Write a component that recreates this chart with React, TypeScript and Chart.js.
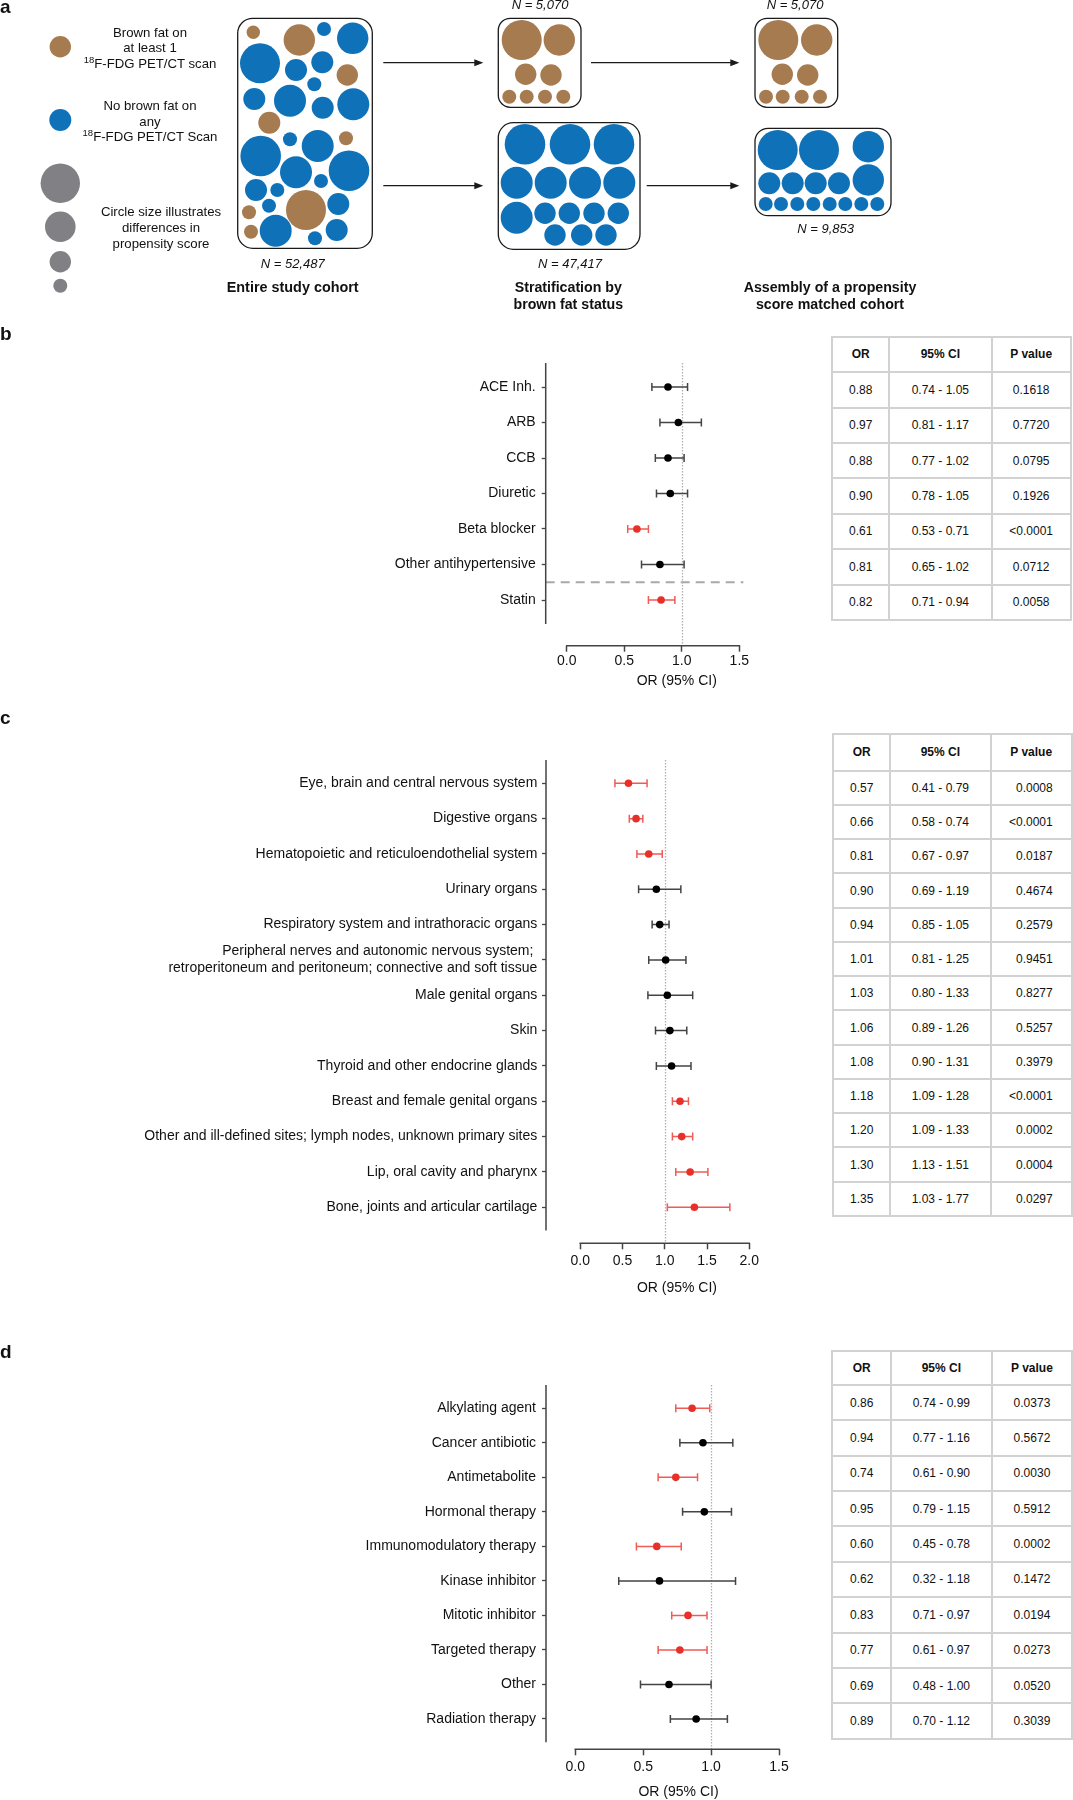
import React, { useEffect, useRef } from 'react';
import { Chart, registerables } from 'chart.js';

Chart.register(...registerables);

const FONT = "'Liberation Sans', Arial, Helvetica, sans-serif";

const BROWN = '#a67b4f';
const BLUE = '#0f72b9';
const GRAY = '#818185';
const RED = '#e8302a';
const RED_BAR = '#ef5b55';
const BLACK = '#000000';
const BAR = '#444444';
const AX = '#444444';

// ---------- panel a (schematic) ----------
const legendBrown = [[60.3, 46.7, 10.7]];
const legendBlue = [[60.3, 120, 11]];
const legendGray = [[60.3, 183.3, 19.7], [60.3, 226.7, 15.3], [60.3, 261.7, 10.7], [60.3, 285.7, 7]];
const cohortBrown = [
  [253.3, 32.3, 6.7], [299.3, 40, 15.7], [347.3, 75, 10.7], [269.3, 122.7, 11], [346, 138.3, 7],
  [306, 210, 20], [249, 212.3, 7], [251, 231.7, 7],
];
const cohortBlue = [
  [324, 29, 7], [352.7, 38.3, 15.7], [260, 63.3, 20], [296, 70, 11], [322.3, 62.3, 11],
  [314.3, 84.3, 7], [254.3, 99, 11], [290, 100.7, 16], [322.7, 107.7, 11], [353.3, 104.3, 16],
  [290, 139.3, 7], [317.7, 146, 16], [260.7, 156, 20.3], [296, 172.3, 16], [349, 170.7, 20.3],
  [321, 181, 7], [256, 190, 11], [277.3, 190, 7], [269, 205.7, 7], [338.3, 204, 11],
  [275.7, 230.7, 16], [315, 238.3, 7], [336.7, 230, 11],
];
const stratBrown = [
  [521.7, 40, 20], [559.3, 40, 15.7], [525.7, 74.3, 10.7], [551, 75, 10.7],
  [509.3, 96.7, 7], [526.7, 96.7, 7], [545, 96.7, 7], [563.3, 96.7, 7],
];
const stratBlue = [
  [525, 144.3, 20.3], [570, 144.3, 20.3], [614, 144.3, 20.3],
  [516.7, 182.7, 16], [550.7, 182.7, 16], [585, 182.7, 16], [619.3, 182.7, 16],
  [516.7, 217.7, 16], [545, 213.3, 10.7], [569.3, 213.3, 10.7], [594, 213.3, 10.7], [618.3, 213.3, 10.7],
  [555, 235, 10.7], [581.7, 235, 10.7], [606, 235, 10.7],
];
const matchedBrown = [
  [778.3, 40, 20], [816.7, 40, 15.7], [782.3, 74.3, 10.7], [807.7, 75, 10.7],
  [766, 96.7, 7], [782.7, 96.7, 7], [801.7, 96.7, 7], [820, 96.7, 7],
];
const matchedBlue = [
  [777.7, 150, 20], [819, 150, 20], [868.3, 146.7, 15.7], [868.3, 180, 15.7],
  [769.3, 183.3, 11], [792.7, 183.3, 11], [815.7, 183.3, 11], [839, 183.3, 11],
  [765.7, 204, 7], [781, 204, 7], [797.3, 204, 7], [813.3, 204, 7],
  [829.7, 204, 7], [845.3, 204, 7], [861.3, 204, 7], [877.3, 204, 7],
];
const boxes = [
  [237.7, 18.3, 372.3, 248.3, 15],
  [498.3, 18.3, 581, 107.3, 12],
  [498.3, 122.7, 640, 249.3, 15],
  [755, 18.3, 837.7, 107.3, 12],
  [755, 128.3, 891, 215.7, 13],
];
const arrows = [
  [383.3, 483.3, 62.7], [383.3, 483.3, 185.7], [591, 739.3, 62.7], [646.7, 739.3, 185.7],
];

// ---------- panel b ----------
const bLabels = ['ACE Inh.', 'ARB', 'CCB', 'Diuretic', 'Beta blocker', 'Other antihypertensive', 'Statin'];
const bOR = [0.88, 0.97, 0.88, 0.90, 0.61, 0.81, 0.82];
const bLo = [0.74, 0.81, 0.77, 0.78, 0.53, 0.65, 0.71];
const bHi = [1.05, 1.17, 1.02, 1.05, 0.71, 1.02, 0.94];
const bP = ['0.1618', '0.7720', '0.0795', '0.1926', '<0.0001', '0.0712', '0.0058'];
const bTicks = [0, 0.5, 1.0, 1.5];

// ---------- panel c ----------
const cLabels = [
  'Eye, brain and central nervous system',
  'Digestive organs',
  'Hematopoietic and reticuloendothelial system',
  'Urinary organs',
  'Respiratory system and intrathoracic organs',
  ['Peripheral nerves and autonomic nervous system; ', 'retroperitoneum and peritoneum; connective and soft tissue'],
  'Male genital organs',
  'Skin',
  'Thyroid and other endocrine glands',
  'Breast and female genital organs',
  'Other and ill-defined sites; lymph nodes, unknown primary sites',
  'Lip, oral cavity and pharynx',
  'Bone, joints and articular cartilage',
];
const cOR = [0.57, 0.66, 0.81, 0.90, 0.94, 1.01, 1.03, 1.06, 1.08, 1.18, 1.20, 1.30, 1.35];
const cLo = [0.41, 0.58, 0.67, 0.69, 0.85, 0.81, 0.80, 0.89, 0.90, 1.09, 1.09, 1.13, 1.03];
const cHi = [0.79, 0.74, 0.97, 1.19, 1.05, 1.25, 1.33, 1.26, 1.31, 1.28, 1.33, 1.51, 1.77];
const cP = ['0.0008', '<0.0001', '0.0187', '0.4674', '0.2579', '0.9451', '0.8277', '0.5257', '0.3979', '<0.0001', '0.0002', '0.0004', '0.0297'];
const cTicks = [0, 0.5, 1.0, 1.5, 2.0];

// ---------- panel d ----------
const dLabels = ['Alkylating agent', 'Cancer antibiotic', 'Antimetabolite', 'Hormonal therapy', 'Immunomodulatory therapy', 'Kinase inhibitor', 'Mitotic inhibitor', 'Targeted therapy', 'Other', 'Radiation therapy'];
const dOR = [0.86, 0.94, 0.74, 0.95, 0.60, 0.62, 0.83, 0.77, 0.69, 0.89];
const dLo = [0.74, 0.77, 0.61, 0.79, 0.45, 0.32, 0.71, 0.61, 0.48, 0.70];
const dHi = [0.99, 1.16, 0.90, 1.15, 0.78, 1.18, 0.97, 0.97, 1.00, 1.12];
const dP = ['0.0373', '0.5672', '0.0030', '0.5912', '0.0002', '0.1472', '0.0194', '0.0273', '0.0520', '0.3039'];
const dTicks = [0, 0.5, 1.0, 1.5];

const AXIS_TITLE = 'OR (95% CI)';

type Geo = {
  top: number; width: number; height: number;
  areaLeft: number; areaTop: number; areaBottom: number;
  zeroX: number; unitPx: number; firstY: number; rowH: number;
  yTick: number; yPad: number; xPad: number; titleDy: number; lineH: number;
};

function Schematic() {
  const ref = useRef<HTMLCanvasElement | null>(null);
  useEffect(() => {
    const toPts = (arr: number[][]) => arr.map(([x, y, r]) => ({ x, y, r }));
    const shapes = {
      id: 'shapes',
      afterDatasetsDraw(chart: any) {
        const { ctx, scales } = chart;
        const X = (v: number) => scales.x.getPixelForValue(v);
        const Y = (v: number) => scales.y.getPixelForValue(v);
        ctx.save();
        ctx.strokeStyle = '#1a1a1a';
        ctx.lineWidth = 1.3;
        boxes.forEach(([x1, y1, x2, y2, r]) => {
          ctx.beginPath();
          ctx.roundRect(X(x1), Y(y1), X(x2) - X(x1), Y(y2) - Y(y1), r);
          ctx.stroke();
        });
        ctx.fillStyle = '#1a1a1a';
        ctx.lineWidth = 1.2;
        arrows.forEach(([x1, x2, y]) => {
          const yy = Y(y);
          ctx.beginPath();
          ctx.moveTo(X(x1), yy);
          ctx.lineTo(X(x2) - 6, yy);
          ctx.stroke();
          ctx.beginPath();
          ctx.moveTo(X(x2), yy);
          ctx.lineTo(X(x2) - 9, yy - 3.5);
          ctx.lineTo(X(x2) - 9, yy + 3.5);
          ctx.closePath();
          ctx.fill();
        });
        ctx.restore();
      },
    };
    const chart = new Chart(ref.current as HTMLCanvasElement, {
      type: 'bubble',
      data: {
        datasets: [
          { data: toPts([...legendBrown, ...cohortBrown, ...stratBrown, ...matchedBrown]), backgroundColor: BROWN, borderWidth: 0 },
          { data: toPts([...legendBlue, ...cohortBlue, ...stratBlue, ...matchedBlue]), backgroundColor: BLUE, borderWidth: 0 },
          { data: toPts(legendGray), backgroundColor: GRAY, borderWidth: 0 },
        ],
      } as any,
      options: {
        animation: false,
        responsive: false,
        events: [],
        layout: { padding: 0, autoPadding: false },
        plugins: { legend: { display: false }, tooltip: { enabled: false } },
        scales: {
          x: { type: 'linear', min: 0, max: 1073, display: false },
          y: { type: 'linear', min: 0, max: 320, reverse: true, display: false },
        },
      } as any,
      plugins: [shapes],
    });
    return () => chart.destroy();
  }, []);
  return <canvas ref={ref} width={1073} height={320} style={{ position: 'absolute', left: 0, top: 0 }} />;
}

function Forest(props: {
  labels: (string | string[])[]; or: number[]; lo: number[]; hi: number[]; xTicks: number[];
  g: Geo; dashAfter?: number; titleAt: number; dashEnd?: number;
}) {
  const ref = useRef<HTMLCanvasElement | null>(null);
  const { g } = props;
  useEffect(() => {
    const { labels, or, lo, hi, xTicks, dashAfter, titleAt, dashEnd } = props;
    const N = labels.length;
    const yMin = -(g.firstY - g.areaTop) / g.rowH;
    const yMax = (g.areaBottom - g.firstY) / g.rowH;
    const xMin = -(g.zeroX - g.areaLeft) / g.unitPx;
    const xMaxV = xTicks[xTicks.length - 1];
    const areaRight = g.zeroX + xMaxV * g.unitPx;
    const XH = 30;
    const sig = or.map((_, i) => hi[i] < 1 || lo[i] > 1);
    const dotCol = sig.map((s) => (s ? RED : BLACK));
    const barCol = sig.map((s) => (s ? RED_BAR : BAR));
    const forest = {
      id: 'forest',
      beforeDatasetsDraw(chart: any) {
        const { ctx, chartArea } = chart;
        const x = chart.scales.x;
        const y = chart.scales.y;
        ctx.save();
        const x1 = Math.round(x.getPixelForValue(1)) + 0.5;
        ctx.strokeStyle = '#b0b0b0';
        ctx.lineWidth = 1.3;
        ctx.setLineDash([1.5, 1.5]);
        ctx.beginPath();
        ctx.moveTo(x1, chartArea.top);
        ctx.lineTo(x1, chartArea.bottom);
        ctx.stroke();
        ctx.setLineDash([]);
        if (dashAfter !== undefined) {
          const yy = y.getPixelForValue(dashAfter + 0.5);
          ctx.strokeStyle = '#a9a9a9';
          ctx.lineWidth = 2;
          ctx.setLineDash([9, 6]);
          ctx.beginPath();
          ctx.moveTo(chartArea.left, yy);
          ctx.lineTo(x.getPixelForValue(dashEnd ?? xMaxV), yy);
          ctx.stroke();
          ctx.setLineDash([]);
        }
        ctx.lineWidth = 1.5;
        for (let i = 0; i < N; i++) {
          const yy = y.getPixelForValue(i);
          const a = x.getPixelForValue(lo[i]);
          const b = x.getPixelForValue(hi[i]);
          ctx.strokeStyle = barCol[i];
          ctx.beginPath();
          ctx.moveTo(a, yy);
          ctx.lineTo(b, yy);
          ctx.moveTo(a, yy - 4);
          ctx.lineTo(a, yy + 4);
          ctx.moveTo(b, yy - 4);
          ctx.lineTo(b, yy + 4);
          ctx.stroke();
        }
        ctx.restore();
      },
      afterDraw(chart: any) {
        const { ctx, chartArea } = chart;
        const x = chart.scales.x;
        const y = chart.scales.y;
        ctx.save();
        ctx.strokeStyle = AX;
        ctx.lineWidth = 1.5;
        ctx.beginPath();
        ctx.moveTo(chartArea.left, chartArea.top);
        ctx.lineTo(chartArea.left, y.getPixelForValue(N - 1 - yMin));
        ctx.moveTo(x.getPixelForValue(xTicks[0]) - 0.75, chartArea.bottom);
        ctx.lineTo(x.getPixelForValue(xMaxV) + 0.75, chartArea.bottom);
        ctx.stroke();
        ctx.fillStyle = '#111';
        ctx.font = `14px ${FONT}`;
        ctx.textAlign = 'center';
        ctx.textBaseline = 'middle';
        ctx.fillText(AXIS_TITLE, x.getPixelForValue(titleAt), chartArea.bottom + g.titleDy);
        ctx.restore();
      },
    };
    const chart = new Chart(ref.current as HTMLCanvasElement, {
      type: 'scatter',
      data: {
        datasets: [
          {
            data: or.map((v, i) => ({ x: v, y: i })),
            pointRadius: 3.8,
            pointHoverRadius: 3.8,
            pointBackgroundColor: dotCol,
            pointBorderWidth: 0,
            showLine: false,
          },
        ],
      } as any,
      options: {
        animation: false,
        responsive: false,
        events: [],
        layout: {
          autoPadding: false,
          padding: {
            left: 0,
            top: g.areaTop - g.top,
            right: g.width - areaRight,
            bottom: g.height - (g.areaBottom - g.top) - XH,
          },
        },
        plugins: { legend: { display: false }, tooltip: { enabled: false } },
        scales: {
          x: {
            type: 'linear',
            position: 'bottom',
            min: xMin,
            max: xMaxV,
            afterBuildTicks: (s: any) => { s.ticks = xTicks.map((v) => ({ value: v })); },
            afterFit: (s: any) => { s.height = XH; },
            ticks: {
              callback: (v: any) => Number(v).toFixed(1),
              font: { family: FONT, size: 14 },
              color: '#111',
              padding: g.xPad,
              maxRotation: 0,
              autoSkip: false,
            },
            grid: { display: true, drawOnChartArea: false, drawTicks: true, tickLength: 6, tickColor: AX, tickWidth: 1.5, color: AX },
            border: { display: false },
          },
          y: {
            type: 'linear',
            position: 'left',
            reverse: true,
            min: yMin,
            max: yMax,
            afterBuildTicks: (s: any) => { s.ticks = labels.map((_, i) => ({ value: i })); },
            afterFit: (s: any) => { s.width = g.areaLeft; },
            ticks: {
              callback: (v: any) => labels[v],
              font: { family: FONT, size: 14, lineHeight: `${g.lineH}px` },
              color: '#111',
              padding: g.yPad,
              autoSkip: false,
            },
            grid: { display: true, drawOnChartArea: false, drawTicks: true, tickLength: g.yTick, tickColor: AX, tickWidth: 1.3, color: AX },
            border: { display: false },
          },
        },
      } as any,
      plugins: [forest],
    });
    return () => chart.destroy();
  }, []);
  return <canvas ref={ref} width={g.width} height={g.height} style={{ position: 'absolute', left: 0, top: g.top }} />;
}

function StatTable(props: {
  left: number; top: number; cols: number[]; h0: number; h: number;
  or: number[]; lo: number[]; hi: number[]; p: string[]; pRight?: boolean;
}) {
  const { left, top, cols, h0, h, or, lo, hi, p, pRight } = props;
  const bc = '2px solid #d2d2d2';
  const cell = (extra: any = {}) => ({
    boxSizing: 'border-box' as const,
    borderRight: bc,
    borderBottom: bc,
    display: 'flex',
    alignItems: 'center',
    justifyContent: 'center',
    ...extra,
  });
  const pCell = pRight ? { justifyContent: 'flex-end', paddingRight: 18 } : {};
  return (
    <div
      style={{
        position: 'absolute',
        left: left - 1,
        top: top - 1,
        display: 'grid',
        gridTemplateColumns: cols.map((c) => `${c}px`).join(' '),
        gridTemplateRows: `${h0}px repeat(${or.length}, ${h}px)`,
        borderLeft: bc,
        borderTop: bc,
        fontSize: 12,
        fontFamily: FONT,
        color: '#111',
      }}
    >
      <div style={cell({ fontWeight: 'bold' })}>OR</div>
      <div style={cell({ fontWeight: 'bold' })}>95% CI</div>
      <div style={cell({ fontWeight: 'bold' })}>P value</div>
      {or.map((v, i) => (
        <React.Fragment key={i}>
          <div style={cell()}>{v.toFixed(2)}</div>
          <div style={cell()}>{`${lo[i].toFixed(2)} - ${hi[i].toFixed(2)}`}</div>
          <div style={cell(pCell)}>{p[i]}</div>
        </React.Fragment>
      ))}
    </div>
  );
}

function Txt(props: { cx: number; top: number; w: number; lh: number; size: number; bold?: boolean; italic?: boolean; children: any }) {
  const { cx, top, w, lh, size, bold, italic, children } = props;
  return (
    <div
      style={{
        position: 'absolute',
        left: cx - w / 2,
        top,
        width: w,
        textAlign: 'center',
        lineHeight: `${lh}px`,
        fontSize: size,
        fontWeight: bold ? 'bold' : 'normal',
        fontStyle: italic ? 'italic' : 'normal',
        whiteSpace: 'nowrap',
      }}
    >
      {children}
    </div>
  );
}

const Sup18 = () => <span style={{ fontSize: 9.5, position: 'relative', top: -5 }}>18</span>;

function PanelLabel(props: { x: number; top: number; children: any }) {
  return (
    <div style={{ position: 'absolute', left: props.x, top: props.top, fontSize: 19, lineHeight: '19px', fontWeight: 'bold' }}>
      {props.children}
    </div>
  );
}

export default function App() {
  useEffect(() => {
    document.body.style.margin = '0';
  }, []);
  const gB: Geo = { top: 320, width: 800, height: 380, areaLeft: 545.7, areaTop: 363, areaBottom: 645.7, zeroX: 566.7, unitPx: 115.1, firstY: 387, rowH: 35.5, yTick: 4, yPad: 6, xPad: 1, titleDy: 35, lineH: 16.8 };
  const gC: Geo = { top: 720, width: 800, height: 580, areaLeft: 546, areaTop: 760, areaBottom: 1243.3, zeroX: 580.3, unitPx: 84.5, firstY: 783.3, rowH: 35.33, yTick: 4, yPad: 4.7, xPad: 3.5, titleDy: 45, lineH: 17.3 };
  const gD: Geo = { top: 1340, width: 800, height: 460, areaLeft: 546, areaTop: 1385, areaBottom: 1749.3, zeroX: 575.3, unitPx: 135.8, firstY: 1408.3, rowH: 34.52, yTick: 4, yPad: 6, xPad: 3, titleDy: 43, lineH: 16.8 };
  return (
    <div style={{ position: 'absolute', left: 0, top: 0, width: 1073, height: 1800, background: '#fff', fontFamily: FONT, color: '#111', overflow: 'hidden' }}>
      <Schematic />
      <PanelLabel x={0} top={-3}>a</PanelLabel>
      <PanelLabel x={0} top={324}>b</PanelLabel>
      <PanelLabel x={0} top={708}>c</PanelLabel>
      <PanelLabel x={0} top={1342}>d</PanelLabel>

      <Txt cx={150} top={24.5} w={170} lh={15.5} size={13.2}>
        Brown fat on<br />at least 1<br /><Sup18 />F-FDG PET/CT scan
      </Txt>
      <Txt cx={150} top={97.9} w={170} lh={15.8} size={13.2}>
        No brown fat on<br />any<br /><Sup18 />F-FDG PET/CT Scan
      </Txt>
      <Txt cx={161} top={204.4} w={170} lh={15.85} size={13.2}>
        Circle size illustrates<br />differences in<br />propensity score
      </Txt>
      <Txt cx={292.7} top={256.3} w={120} lh={16} size={13} italic>N = 52,487</Txt>
      <Txt cx={292.7} top={278.8} w={180} lh={17} size={14.4} bold>Entire study cohort</Txt>
      <Txt cx={540} top={-3} w={100} lh={16} size={13} italic>N = 5,070</Txt>
      <Txt cx={795} top={-3} w={100} lh={16} size={13} italic>N = 5,070</Txt>
      <Txt cx={570} top={256} w={120} lh={16} size={13} italic>N = 47,417</Txt>
      <Txt cx={825.7} top={221} w={120} lh={16} size={13} italic>N = 9,853</Txt>
      <Txt cx={568.3} top={279} w={200} lh={16.7} size={14.2} bold>
        Stratification by<br />brown fat status
      </Txt>
      <Txt cx={830} top={279} w={240} lh={16.7} size={14.2} bold>
        Assembly of a propensity<br />score matched cohort
      </Txt>

      <Forest labels={bLabels} or={bOR} lo={bLo} hi={bHi} xTicks={bTicks} g={gB} dashAfter={5} dashEnd={1.535} titleAt={0.956} />
      <Forest labels={cLabels} or={cOR} lo={cLo} hi={cHi} xTicks={cTicks} g={gC} titleAt={1.144} />
      <Forest labels={dLabels} or={dOR} lo={dLo} hi={dHi} xTicks={dTicks} g={gD} titleAt={0.76} />

      <StatTable left={832.3} top={336.7} cols={[56.7, 102.7, 79]} h0={35.6} h={35.39} or={bOR} lo={bLo} hi={bHi} p={bP} />
      <StatTable left={833.3} top={734.3} cols={[56.7, 100.7, 81]} h0={36.4} h={34.25} or={cOR} lo={cLo} hi={cHi} p={cP} pRight />
      <StatTable left={832.3} top={1350.7} cols={[58.7, 100.7, 80.6]} h0={34.3} h={35.37} or={dOR} lo={dLo} hi={dHi} p={dP} />
    </div>
  );
}
